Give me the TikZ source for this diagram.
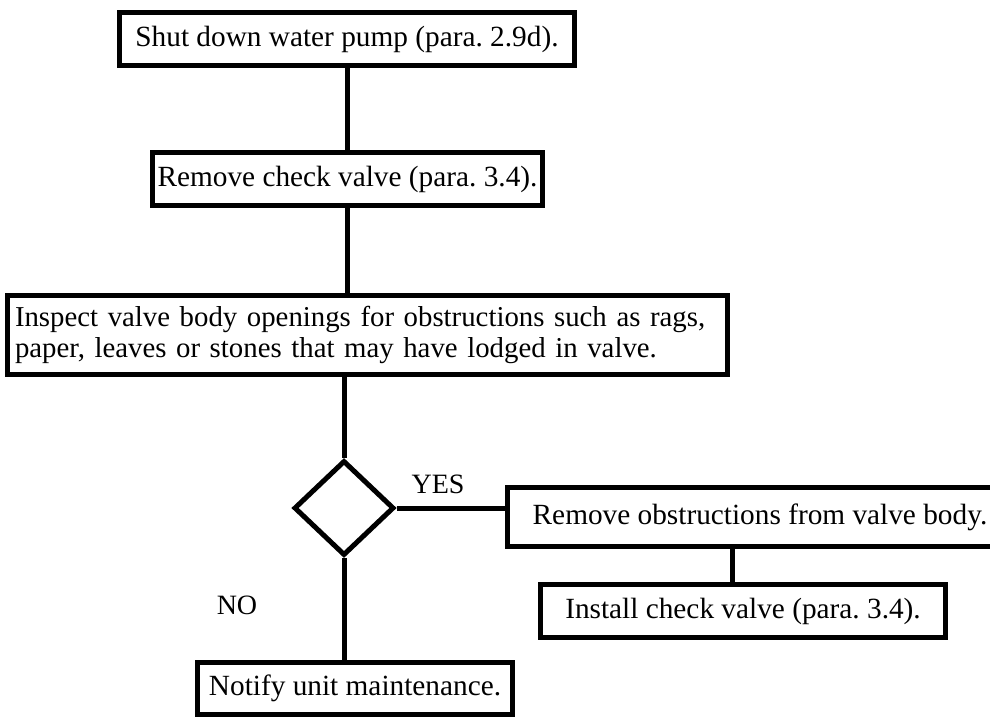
\documentclass[tikz,border=0pt]{standalone}
\usepackage{fontspec}
\setmainfont{Liberation Serif}
\usetikzlibrary{shapes.geometric}

\begin{document}
\begin{tikzpicture}[x=1pt, y=-1pt,
    box/.style={draw, line width=5pt, minimum height=53pt, inner sep=0pt,
                font=\fontsize{29.3}{31}\selectfont\frenchspacing},
    dec/.style={draw, diamond, aspect=1, line width=5pt, minimum width=100pt,
                minimum height=95pt, inner sep=0pt},
    wire/.style={line width=5pt},
    lbl/.style={font=\fontsize{28}{30}\selectfont},
]
    \useasboundingbox (0,0) rectangle (990,717);

    % Top steps
    \node[box, minimum width=455pt] (shut) at (347, 39) {Shut down water pump (para. 2.9d).};
    \node[box, minimum width=390pt] (remove) at (347.5, 179) {Remove check valve (para. 3.4).};
    \node[box, minimum width=720pt, minimum height=79pt, text width=705pt, align=left,
          font=\fontsize{28.8}{31}\selectfont\frenchspacing]
        (inspect) at (367.5, 335) {Inspect valve body openings for obstructions such as rags,\\
        paper, leaves or stones that may have lodged in valve.};

    % Decision
    \node[dec] (found) at (344, 508) {};

    % Branches
    \node[box, minimum width=505pt, minimum height=59pt] (clear) at (760, 517) {Remove obstructions from valve body.};
    \node[box, minimum width=405pt] (install) at (743, 611) {Install check valve (para. 3.4).};
    \node[box, minimum width=315pt, minimum height=52pt] (notify) at (355, 688.5) {Notify unit maintenance.};
    \coordinate (drop) at (732, 560);

    \node[lbl] (yes) at (438, 484) {YES};
    \node[lbl] (no) at (237, 605) {NO};

    % Lines
    \draw[wire] (shut.south) -- (shut.south |- remove.north);
    \draw[wire] (remove.south) -- (remove.south |- inspect.north);
    \draw[wire] (found.north |- inspect.south) -- (found.north);
    \draw[wire] (found.east) -- (found.east -| clear.west);
    \draw[wire] (drop |- clear.south) -- (drop |- install.north);
    \draw[wire] (found.south) -- (found.south |- notify.north);

\end{tikzpicture}
\end{document}
